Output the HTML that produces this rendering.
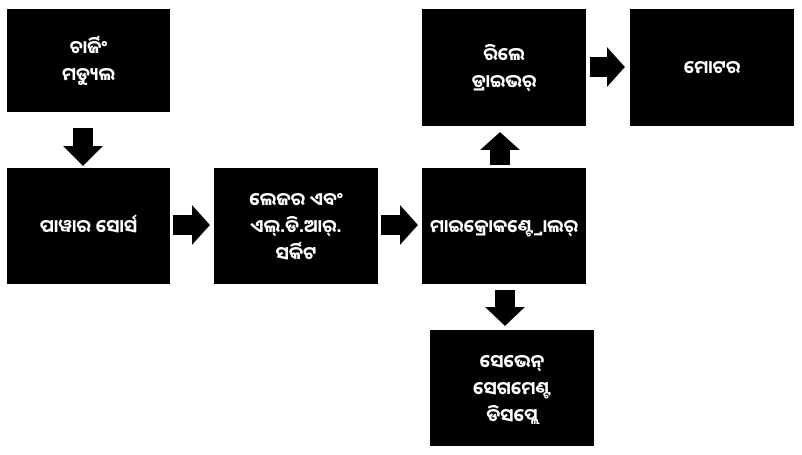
<!DOCTYPE html>
<html><head><meta charset="utf-8"><style>
body{margin:0;width:802px;height:455px;background:#fff;position:relative;overflow:hidden;font-family:"Liberation Sans","Noto Sans Oriya","Noto Sans CJK SC",sans-serif;}
.b{position:absolute;background:#000;color:#fff;display:flex;align-items:center;justify-content:center;text-align:center;font-size:18px;font-weight:bold;line-height:27px;}
svg{position:absolute;left:0;top:0}
</style></head><body>
<div class="b" style="left:7px;top:9px;width:163px;height:103px">ଚାର୍ଜିଂ<br>ମଡ୍ୟୁଲ</div>
<div class="b" style="left:7px;top:168px;width:163px;height:116px">ପାୱାର ସୋର୍ସ</div>
<div class="b" style="left:214px;top:168px;width:164px;height:116px">ଲେଜର ଏବଂ<br>ଏଲ୍.ଡି.ଆର୍.<br>ସର୍କିଟ</div>
<div class="b" style="left:422px;top:168px;width:164px;height:116px">ମାଇକ୍ରୋକଣ୍ଟ୍ରୋଲର୍</div>
<div class="b" style="left:422px;top:9px;width:164px;height:117px">ରିଲେ<br>ଡ୍ରାଇଭର୍</div>
<div class="b" style="left:630px;top:9px;width:164px;height:117px;align-items:flex-start"><span style="margin-top:45px">ମୋଟର</span></div>
<div class="b" style="left:430px;top:330px;width:164px;height:116px">ସେଭେନ୍<br>ସେଗମେଣ୍ଟ<br>ଡିସପ୍ଲେ</div>
<svg width="802" height="455">
<polygon points="73,128 93,128 93,146 103,146 83,166 63,146 73,146" fill="#000"/>
<polygon points="173,215 192,215 192,205 210,225 192,245 192,235 173,235" fill="#000"/>
<polygon points="381,215 400,215 400,205 418,225 400,245 400,235 381,235" fill="#000"/>
<polygon points="490,165 510,165 510,150 520,150 500,132 480,150 490,150" fill="#000"/>
<polygon points="590,57 607,57 607,47 625,67 607,87 607,77 590,77" fill="#000"/>
<polygon points="495,290 515,290 515,307 525,307 505,326 485,307 495,307" fill="#000"/>
</svg>
</body></html>
